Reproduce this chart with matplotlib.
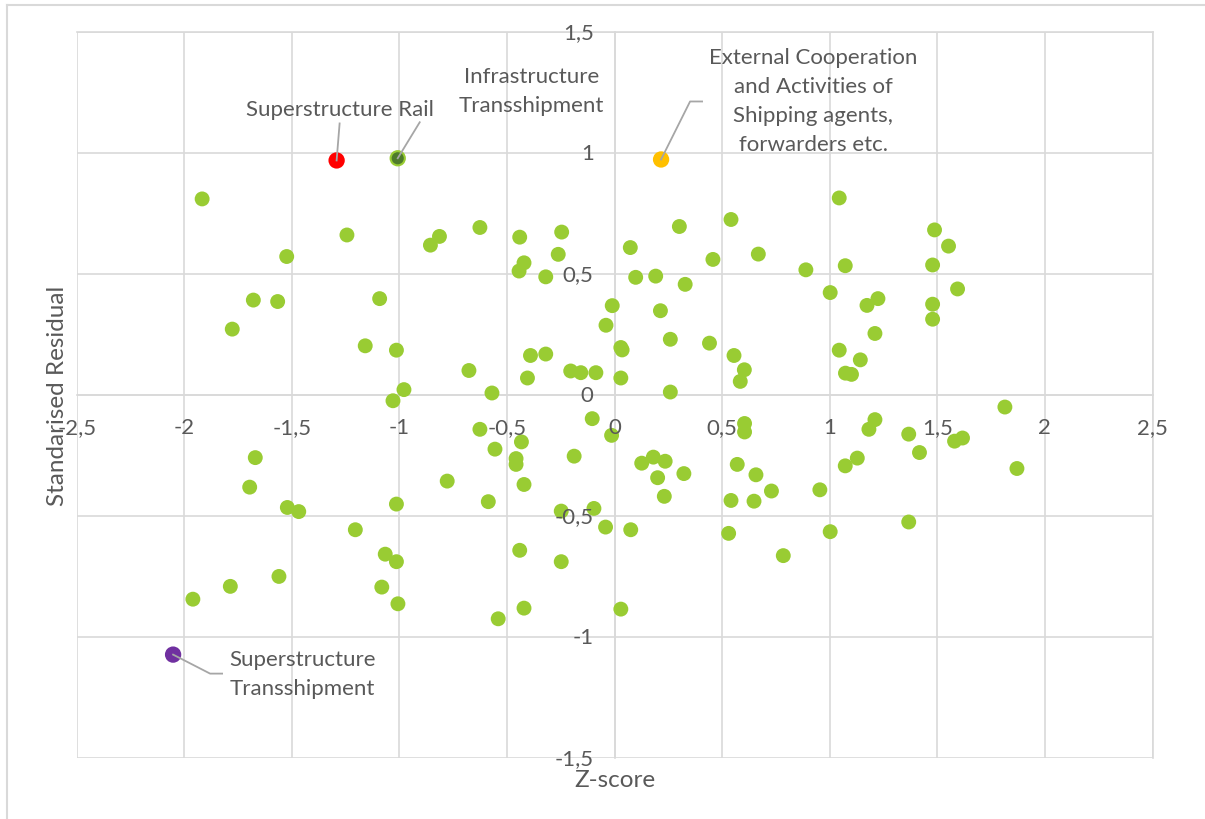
import matplotlib
matplotlib.use("Agg")
import matplotlib.pyplot as plt
from matplotlib.lines import Line2D
from matplotlib.transforms import IdentityTransform

plt.rcParams['font.family'] = ['Lato', 'DejaVu Sans']

# z-score / standardised residual of the ordinary observations
z_score = [
    -1.917, -1.777, -1.679, -1.566, -1.524, -1.244, -1.159, -1.092, -1.014, -1.030,
    -0.979, -0.856, -0.814, -0.677, -0.626, -0.570, -0.441, -0.444, -0.421, -0.405,
    -0.391, -0.320, -0.320, -0.262, -0.246, -0.204, -0.157, -0.087, -0.040, -0.011,
    0.029, 0.035, 0.029, 0.073, 0.098, 0.191, 0.213, 0.259, 0.259, 0.301,
    0.328, 0.441, 0.457, 0.541, 0.555, 0.584, 0.603, 0.668, 0.889, 1.002,
    1.044, 1.044, 1.072, 1.073, 1.101, 1.142, 1.173, 1.210, 1.224, 1.487,
    1.552, 1.478, 1.594, 1.478, 1.478,
    -0.104, -0.014, -0.626, -0.433, -0.556, -0.188, -0.458, -0.458, -0.778, -0.421,
    -0.587, -1.014, -0.248, -0.096, -0.042, -1.205, -0.441, -1.066, -1.014, -0.248,
    -1.082, -1.007, -0.421, -0.541, 0.029, -1.670, -1.696, -1.521, -1.468, -1.560,
    -1.786, -1.960, 0.604, 0.604, 1.210, 1.182, 0.126, 0.180, 0.235, 0.200,
    0.322, 0.231, 0.570, 0.657, 0.729, 0.541, 0.648, 0.954, 1.072, 1.128,
    0.075, 0.530, 1.002, 0.784, 1.814, 1.367, 1.417, 1.580, 1.617, 1.870,
    1.367,
]
std_resid = [
    0.809, 0.271, 0.391, 0.385, 0.571, 0.660, 0.202, 0.397, 0.184, -0.025,
    0.021, 0.618, 0.654, 0.100, 0.691, 0.007, 0.651, 0.511, 0.545, 0.069,
    0.162, 0.487, 0.168, 0.580, 0.672, 0.098, 0.091, 0.091, 0.287, 0.368,
    0.195, 0.185, 0.069, 0.608, 0.485, 0.490, 0.347, 0.229, 0.011, 0.695,
    0.456, 0.213, 0.559, 0.724, 0.162, 0.055, 0.103, 0.581, 0.516, 0.422,
    0.813, 0.184, 0.533, 0.089, 0.084, 0.144, 0.369, 0.253, 0.397, 0.681,
    0.614, 0.536, 0.437, 0.374, 0.312,
    -0.099, -0.168, -0.143, -0.195, -0.225, -0.254, -0.264, -0.288, -0.357, -0.371,
    -0.442, -0.452, -0.481, -0.470, -0.547, -0.558, -0.643, -0.659, -0.690, -0.690,
    -0.795, -0.864, -0.882, -0.926, -0.886, -0.260, -0.382, -0.466, -0.483, -0.751,
    -0.792, -0.845, -0.119, -0.154, -0.103, -0.143, -0.283, -0.258, -0.275, -0.343,
    -0.326, -0.420, -0.288, -0.331, -0.398, -0.437, -0.440, -0.393, -0.294, -0.262,
    -0.558, -0.573, -0.566, -0.665, -0.051, -0.163, -0.239, -0.192, -0.179, -0.305,
    -0.526,
]

# highlighted outliers
outlier_names = ["Superstructure Rail", "Infrastructure\nTransshipment",
                 "External Cooperation\nand Activities of\nShipping agents,\nforwarders etc.",
                 "Superstructure\nTransshipment"]
outlier_z = [-1.292, -1.008, 0.216, -2.052]
outlier_resid = [0.968, 0.977, 0.972, -1.074]

x_ticks = [-2.5, -2, -1.5, -1, -0.5, 0, 0.5, 1, 1.5, 2, 2.5]
y_ticks = [-1.5, -1, -0.5, 0, 0.5, 1, 1.5]

GREEN = '#99CC33'
GRID = '#D9D9D9'
TXT = '#595959'
LEAD = '#A6A6A6'


def fmt(v):
    return f"{v:g}".replace('.', ',')


fig = plt.figure(figsize=(12.05, 8.2), dpi=100)
ax = fig.add_axes([76.7 / 1205, 1 - 758.7 / 820, (1152.5 - 76.7) / 1205, (758.7 - 32.7) / 820])

ax.set_xlim(-2.5, 2.5)
ax.set_ylim(-1.5, 1.5)
ax.set_xticks(x_ticks)
ax.set_yticks(y_ticks)
ax.set_xticklabels([])
ax.set_yticklabels([])
ax.tick_params(length=0)
ax.grid(True, color=GRID, linewidth=1.2, zorder=0)
ax.set_axisbelow(True)
for s in ax.spines.values():
    s.set_color(GRID)
    s.set_linewidth(1.2)
ax.spines['left'].set_position(('data', 0))
ax.spines['bottom'].set_position(('data', 0))

# tick labels sit next to the axes crossing at zero
for v in x_ticks:
    ax.annotate(fmt(v), (v, 0), xytext=(0, -32), textcoords='offset pixels',
                ha='center', va='center', fontsize=16, color=TXT, zorder=6)
for v in y_ticks:
    ax.annotate(fmt(v), (0, v), xytext=(-21, 0), textcoords='offset pixels',
                ha='right', va='center', fontsize=16, color=TXT, zorder=6)

ax.scatter(z_score, std_resid, s=115, color=GREEN, edgecolors='none', zorder=3)

face = ['#FF0000', '#4E7B2A', '#FFC000', '#7030A0']
edge = ['#FF0000', GREEN, '#FFC000', '#7030A0']
ax.scatter(outlier_z, outlier_resid, s=105, c=face, edgecolors=edge, linewidths=1.5, zorder=4)

# label offsets (pixels) and leader line vertices relative to each point
label_off = [(3, 51), (134, 68), (152, 59), (129, -19)]
leaders = [
    [(0, 0), (3, 37)],
    [(0, 0), (22, 36)],
    [(0, 0), (29, 58), (41, 58)],
    [(0, 0), (37, -19), (49, -19)],
]
for name, x, y, off, path in zip(outlier_names, outlier_z, outlier_resid, label_off, leaders):
    ax.annotate(name, (x, y), xytext=off, textcoords='offset pixels',
                ha='center', va='center', fontsize=16, color=TXT,
                linespacing=1.55, zorder=6)
    px, py = ax.transData.transform((x, y))
    ax.add_line(Line2D([px + dx for dx, dy in path], [py + dy for dx, dy in path],
                       transform=IdentityTransform(), color=LEAD, linewidth=1.3, zorder=5))

ax.set_xlabel('Z-score', fontsize=17.5, color=TXT, labelpad=0)
ax.xaxis.set_label_coords(0.5, -(781 - 758.7) / (758.7 - 32.7))
ax.set_ylabel('Standarised Residual', fontsize=17.5, color=TXT)
ax.yaxis.set_label_coords(-(76.7 - 58) / (1152.5 - 76.7), 0.5)
ax.xaxis.label.set_va('center')
ax.yaxis.label.set_va('center')

# chart frame (top and left edges visible)
fig.add_artist(Line2D([7.3 / 1205, 1], [1 - 5.7 / 820] * 2, transform=fig.transFigure, color=GRID, lw=1.5))
fig.add_artist(Line2D([7.3 / 1205] * 2, [0, 1 - 5.7 / 820], transform=fig.transFigure, color=GRID, lw=1.5))

fig.savefig('out.png', dpi=100)
